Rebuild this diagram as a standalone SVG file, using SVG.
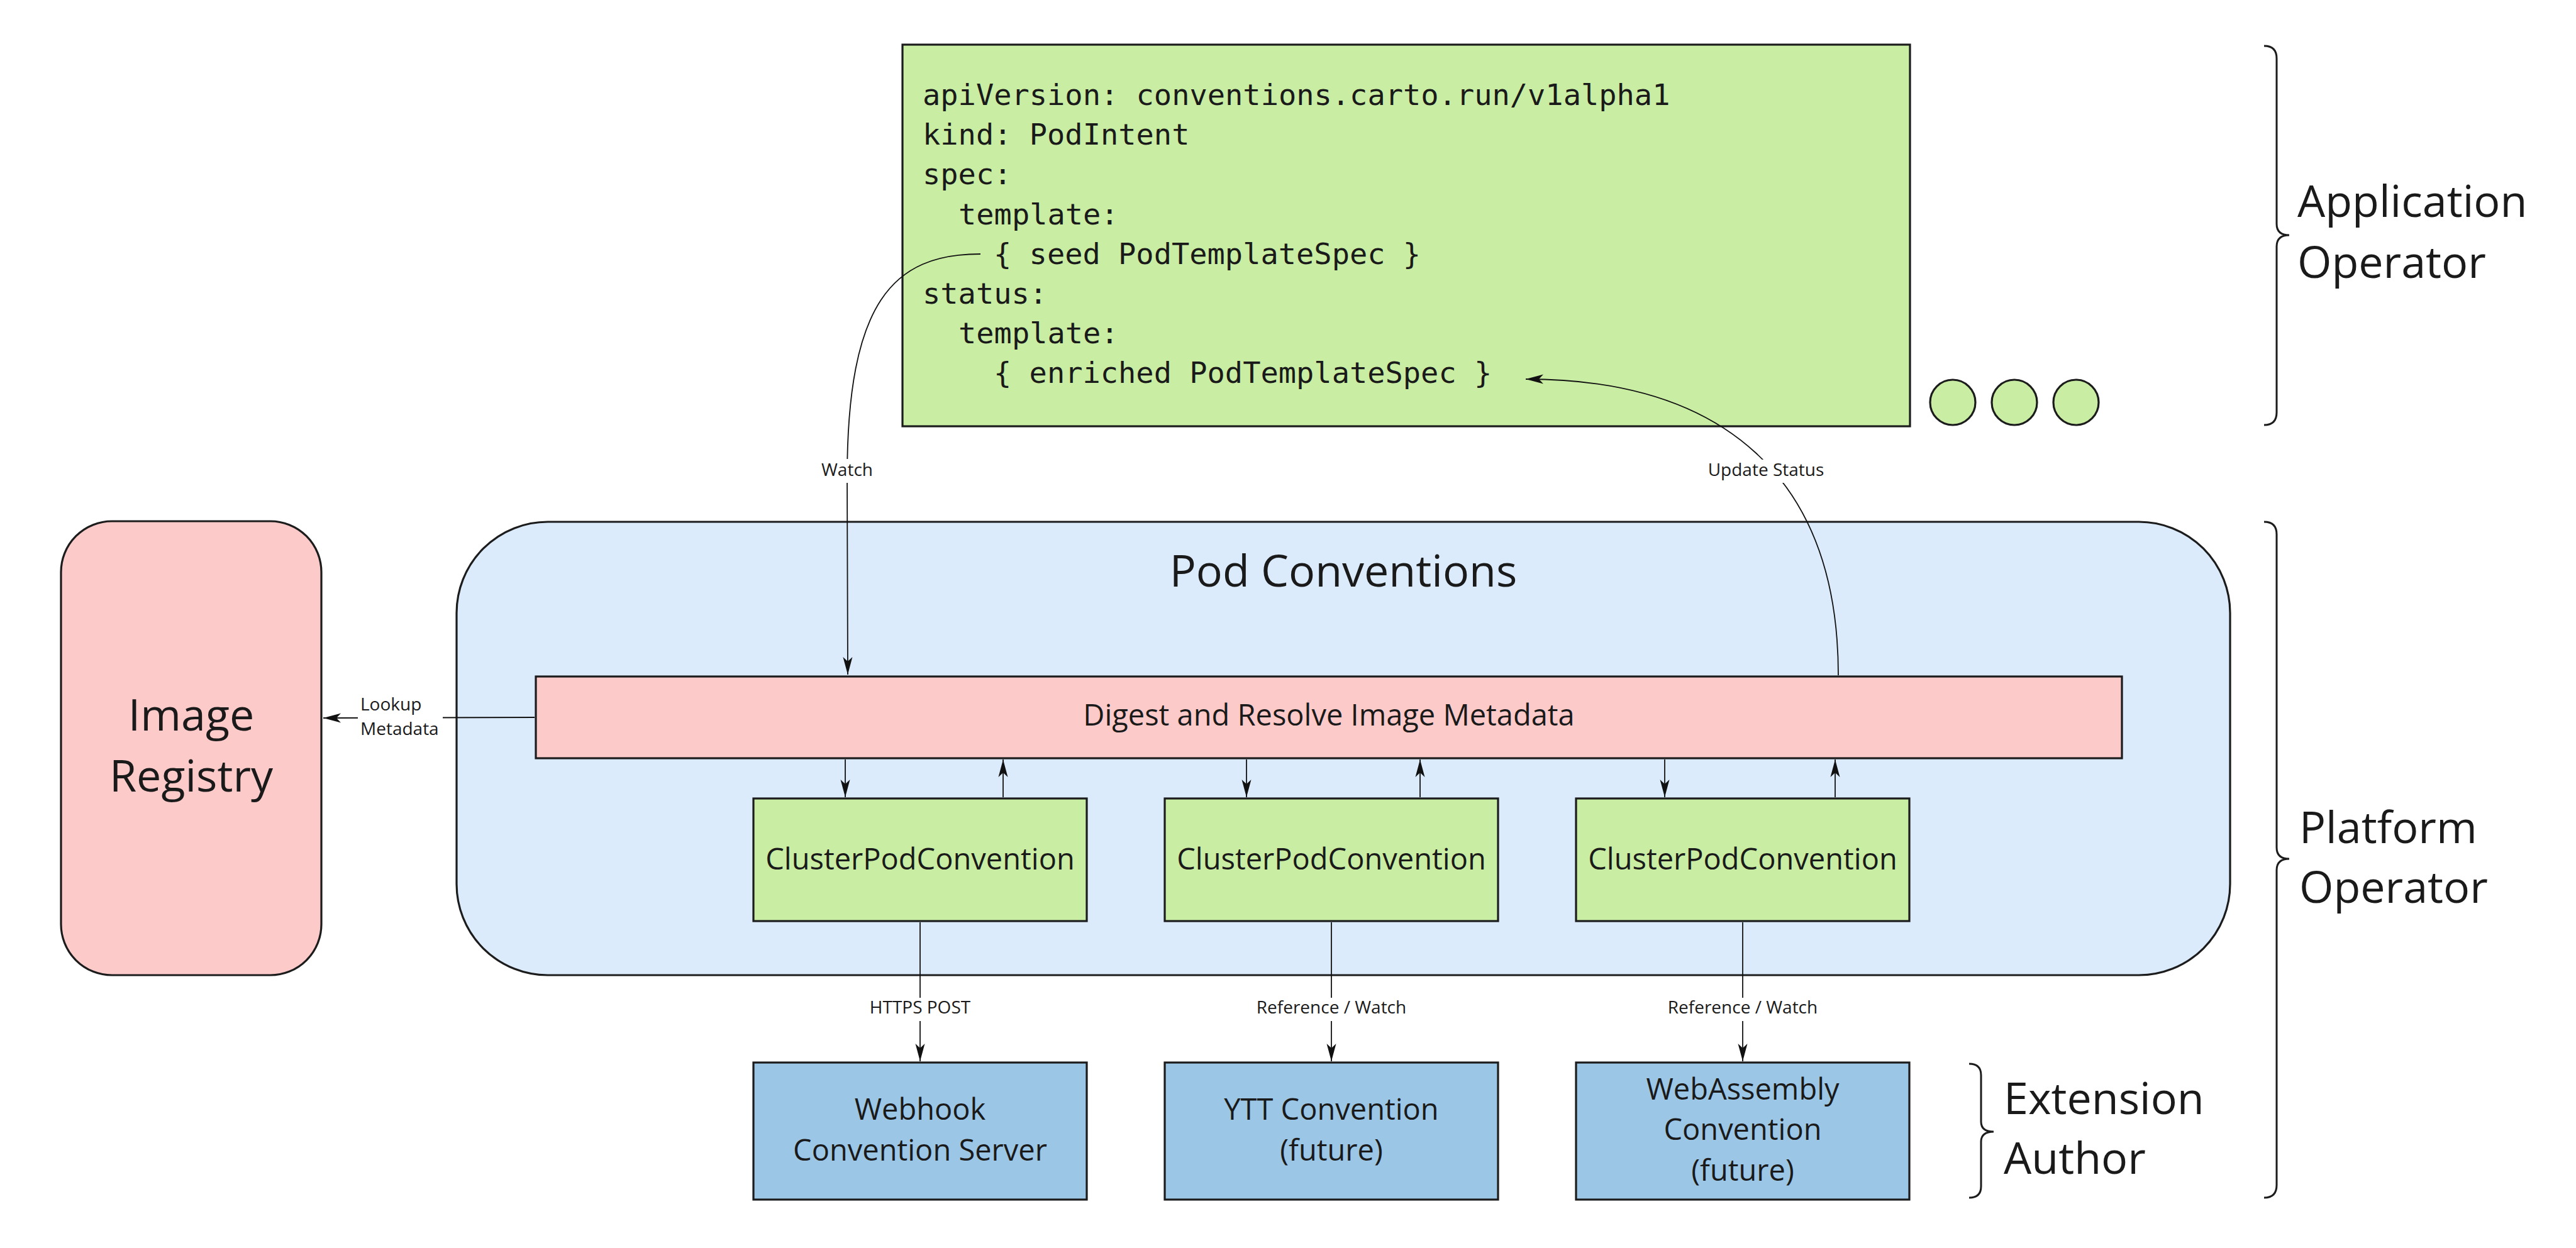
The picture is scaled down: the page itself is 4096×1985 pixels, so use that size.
<svg xmlns="http://www.w3.org/2000/svg" width="4096" height="1985" viewBox="0 0 4096 1985">
<style>
.box{stroke:#1c1c1c;stroke-width:3.2}
.green{fill:#c9eea3}
.pink{fill:#fdcaca}
.lblue{fill:#dbebfc}
.blue{fill:#9bc6e6}
.t{font-family:"Open Sans","Noto Sans",sans-serif;fill:#1a1a1a;text-anchor:middle}
.big{font-size:70px}
.mid{font-size:47px}
.sm{font-size:28px}
.mono{font-family:"DejaVu Sans Mono","Liberation Mono",monospace;font-size:47px;fill:#1a1a1a}
.edge{fill:none;stroke:#111;stroke-width:1.8}
.brace{fill:none;stroke:#1c1c1c;stroke-width:3}
.lab{fill:#fff}
</style>
<defs>
<marker id="arr" markerUnits="userSpaceOnUse" markerWidth="32" markerHeight="18" viewBox="-30 -9 32 18" refX="0" refY="0" orient="auto">
<path d="M0,0 L-28,-7.5 L-21,0 L-28,7.5 Z" fill="#111"/>
</marker>
</defs>
<rect width="4096" height="1985" fill="#fff"/>

<g id="podintent">
<rect class="box green" x="1435" y="71" width="1602" height="607"/>
<text class="mono" x="1467" y="167">apiVersion: conventions.carto.run/v1alpha1</text>
<text class="mono" x="1467" y="230">kind: PodIntent</text>
<text class="mono" x="1467" y="293">spec:</text>
<text class="mono" x="1524" y="357">template:</text>
<text class="mono" x="1580" y="420">{ seed PodTemplateSpec }</text>
<text class="mono" x="1467" y="483">status:</text>
<text class="mono" x="1524" y="546">template:</text>
<text class="mono" x="1580" y="609">{ enriched PodTemplateSpec }</text>
</g>

<g id="more">
<circle class="box green" cx="3105" cy="640" r="36"/>
<circle class="box green" cx="3203" cy="640" r="36"/>
<circle class="box green" cx="3301" cy="640" r="36"/>
</g>

<g id="image-registry">
<rect class="box pink" x="97" y="829" width="414" height="722" rx="81" ry="81"/>
<text class="t big" x="304" y="1162">Image</text>
<text class="t big" x="304" y="1259">Registry</text>
</g>

<g id="pod-conventions">
<rect class="box lblue" x="726" y="830" width="2820" height="721" rx="145" ry="145"/>
<text class="t big" x="2136" y="933">Pod Conventions</text>
</g>

<g id="digest">
<rect class="box pink" x="852" y="1076" width="2522" height="130"/>
<text class="t mid" x="2113" y="1154">Digest and Resolve Image Metadata</text>
</g>

<g id="cpc1">
<rect class="box green" x="1198" y="1270" width="530" height="195"/>
<text class="t mid" x="1463" y="1383">ClusterPodConvention</text>
</g>
<g id="cpc2">
<rect class="box green" x="1852" y="1270" width="530" height="195"/>
<text class="t mid" x="2117" y="1383">ClusterPodConvention</text>
</g>
<g id="cpc3">
<rect class="box green" x="2506" y="1270" width="530" height="195"/>
<text class="t mid" x="2771" y="1383">ClusterPodConvention</text>
</g>

<g id="webhook">
<rect class="box blue" x="1198" y="1690" width="530" height="218"/>
<text class="t mid" x="1463" y="1781">Webhook</text>
<text class="t mid" x="1463" y="1846">Convention Server</text>
</g>
<g id="ytt">
<rect class="box blue" x="1852" y="1690" width="530" height="218"/>
<text class="t mid" x="2117" y="1781">YTT Convention</text>
<text class="t mid" x="2117" y="1846">(future)</text>
</g>
<g id="wasm">
<rect class="box blue" x="2506" y="1690" width="530" height="218"/>
<text class="t mid" x="2771" y="1749">WebAssembly</text>
<text class="t mid" x="2771" y="1813">Convention</text>
<text class="t mid" x="2771" y="1878">(future)</text>
</g>

<g id="connectors">
<path class="edge" d="M1559,404 C1420,404 1347,480 1347,760 L1348,1073" marker-end="url(#arr)"/>
<path class="edge" d="M2923,1074 C2923,760 2740,603 2426,603" marker-end="url(#arr)"/>
<path class="edge" d="M850,1141 L514,1142" marker-end="url(#arr)"/>
<path class="edge" d="M1344,1208 L1344,1268" marker-end="url(#arr)"/>
<path class="edge" d="M1595,1268 L1595,1208" marker-end="url(#arr)"/>
<path class="edge" d="M1982,1208 L1982,1268" marker-end="url(#arr)"/>
<path class="edge" d="M2258,1268 L2258,1208" marker-end="url(#arr)"/>
<path class="edge" d="M2647,1208 L2647,1268" marker-end="url(#arr)"/>
<path class="edge" d="M2918,1268 L2918,1208" marker-end="url(#arr)"/>
<path class="edge" d="M1463,1467 L1463,1688" marker-end="url(#arr)"/>
<path class="edge" d="M2117,1467 L2117,1688" marker-end="url(#arr)"/>
<path class="edge" d="M2771,1467 L2771,1688" marker-end="url(#arr)"/>
<rect class="lab" x="1305" y="730" width="84" height="38"/>
<text class="t sm" x="1347" y="757">Watch</text>
<rect class="lab" x="2716" y="731" width="184" height="37"/>
<text class="t sm" x="2808" y="757">Update Status</text>
<rect class="lab" x="569" y="1100" width="135" height="80"/>
<text class="t sm" x="573" y="1130" style="text-anchor:start">Lookup</text>
<text class="t sm" x="573" y="1169" style="text-anchor:start">Metadata</text>
<rect class="lab" x="1385" y="1587" width="156" height="37"/>
<text class="t sm" x="1463" y="1612">HTTPS POST</text>
<rect class="lab" x="2000" y="1587" width="234" height="37"/>
<text class="t sm" x="2117" y="1612">Reference / Watch</text>
<rect class="lab" x="2654" y="1587" width="234" height="37"/>
<text class="t sm" x="2771" y="1612">Reference / Watch</text>
</g>

<g id="roles">
<path class="brace" d="M3600,73 Q3620,73 3620,93 L3620,356 Q3620,374 3640,374 Q3620,374 3620,392 L3620,656 Q3620,676 3600,676"/>
<text class="t big" x="3653" y="345" style="text-anchor:start">Application</text>
<text class="t big" x="3653" y="442" style="text-anchor:start">Operator</text>
<path class="brace" d="M3600,830 Q3620,830 3620,850 L3620,1348 Q3620,1366 3640,1366 Q3620,1366 3620,1384 L3620,1885 Q3620,1905 3600,1905"/>
<text class="t big" x="3656" y="1341" style="text-anchor:start">Platform</text>
<text class="t big" x="3656" y="1436" style="text-anchor:start">Operator</text>
<path class="brace" d="M3131,1692 Q3150,1692 3150,1710 L3150,1784 Q3150,1800 3170,1800 Q3150,1800 3150,1816 L3150,1887 Q3150,1905 3131,1905"/>
<text class="t big" x="3186" y="1772" style="text-anchor:start">Extension</text>
<text class="t big" x="3186" y="1867" style="text-anchor:start">Author</text>
</g>
</svg>
